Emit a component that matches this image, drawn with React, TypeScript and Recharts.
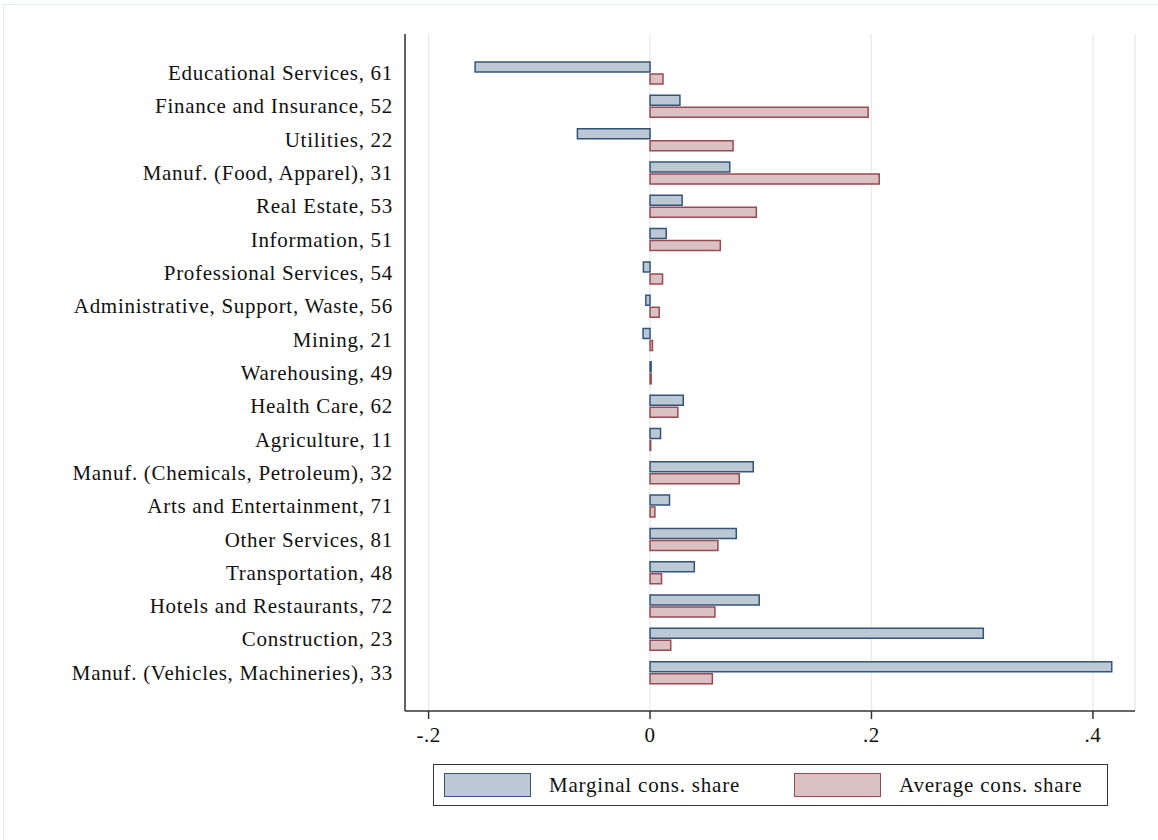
import React from 'react';
import { BarChart, Bar, XAxis, YAxis, CartesianGrid, Legend } from 'recharts';

const categories = [
  'Educational Services, 61',
  'Finance and Insurance, 52',
  'Utilities, 22',
  'Manuf. (Food, Apparel), 31',
  'Real Estate, 53',
  'Information, 51',
  'Professional Services, 54',
  'Administrative, Support, Waste, 56',
  'Mining, 21',
  'Warehousing, 49',
  'Health Care, 62',
  'Agriculture, 11',
  'Manuf. (Chemicals, Petroleum), 32',
  'Arts and Entertainment, 71',
  'Other Services, 81',
  'Transportation, 48',
  'Hotels and Restaurants, 72',
  'Construction, 23',
  'Manuf. (Vehicles, Machineries), 33',
];

const marginalShare = [
  -0.158, 0.027, -0.0656, 0.072, 0.029, 0.0146, -0.006, -0.0038, -0.0063, 0.001,
  0.030, 0.0095, 0.0932, 0.0176, 0.0779, 0.040, 0.0986, 0.301, 0.417,
];

const averageShare = [
  0.0117, 0.197, 0.075, 0.207, 0.096, 0.0635, 0.0113, 0.0083, 0.0022, 0.001,
  0.0251, 0.0006, 0.0806, 0.0044, 0.0613, 0.0104, 0.0586, 0.0187, 0.0563,
];

const seriesNames = ['Marginal cons. share', 'Average cons. share'];

const xTicks = [-0.2, 0, 0.2, 0.4];
const xTickLabels = ['-.2', '0', '.2', '.4'];
const xDomain = [-0.2213, 0.438];

const data = categories.map((name, i) => ({
  name,
  marginal: marginalShare[i],
  average: averageShare[i],
}));

const BLUE_FILL = '#bcc8d4';
const BLUE_STROKE = '#32547c';
const RED_FILL = '#d9c1c4';
const RED_STROKE = '#9a4a50';
const FONT = '"Liberation Serif", "Times New Roman", serif';

const LegendBox = () => (
  <div
    style={{
      boxSizing: 'border-box',
      width: 675,
      height: 42,
      border: '1.5px solid #333',
      background: '#fff',
      display: 'flex',
      alignItems: 'center',
      fontFamily: FONT,
      fontSize: 21,
      letterSpacing: 0.8,
      color: '#111',
    }}
  >
    <div style={{ width: 87, height: 24, marginLeft: 10, background: BLUE_FILL, border: `1.5px solid ${BLUE_STROKE}`, boxSizing: 'border-box' }} />
    <span style={{ marginLeft: 18, width: 245 }}>{seriesNames[0]}</span>
    <div style={{ width: 87, height: 24, background: RED_FILL, border: `1.5px solid ${RED_STROKE}`, boxSizing: 'border-box' }} />
    <span style={{ marginLeft: 18 }}>{seriesNames[1]}</span>
  </div>
);

export default function App() {
  return (
    <div style={{ position: 'absolute', left: 0, top: 0, width: 1158, height: 840, background: '#fff' }}>
      <div
        style={{
          position: 'absolute',
          left: 3,
          top: 4,
          width: 1160,
          height: 840,
          border: '1.5px solid #e4ebee',
          boxSizing: 'border-box',
        }}
      />
      <div style={{ position: 'absolute', left: 0, top: 0 }}>
        <BarChart
          width={1158}
          height={840}
          data={data}
          layout="vertical"
          margin={{ top: 34, right: 23, bottom: 89, left: 0 }}
          barSize={10}
          barGap={2}
        >
          <CartesianGrid horizontal={false} vertical={true} stroke="#e6edf1" strokeWidth={1.5} />
          <XAxis
            type="number"
            domain={xDomain}
            ticks={xTicks}
            allowDataOverflow
            tickFormatter={(v: number) => xTickLabels[xTicks.indexOf(v)] ?? String(v)}
            height={40}
            tickSize={8}
            tickMargin={8}
            stroke="#333"
            strokeWidth={1.5}
            tick={{ fill: '#111', fontSize: 21, fontFamily: FONT, letterSpacing: 0.5 }}
          />
          <YAxis
            type="category"
            dataKey="name"
            width={405}
            tickLine={false}
            tickSize={6}
            tickMargin={6}
            padding={{ top: 22, bottom: 22 }}
            interval={0}
            stroke="#333"
            strokeWidth={1.5}
            tick={{ fill: '#111', fontSize: 21, fontFamily: FONT, letterSpacing: 0.7 }}
          />
          <Legend
            layout="vertical"
            align="center"
            verticalAlign="middle"
            wrapperStyle={{ left: 433, top: 764, width: 675, height: 42 }}
            content={() => <LegendBox />}
          />
          <Bar dataKey="marginal" name={seriesNames[0]} fill={BLUE_FILL} stroke={BLUE_STROKE} strokeWidth={1.5} isAnimationActive={false} />
          <Bar dataKey="average" name={seriesNames[1]} fill={RED_FILL} stroke={RED_STROKE} strokeWidth={1.5} isAnimationActive={false} />
        </BarChart>
      </div>
    </div>
  );
}
